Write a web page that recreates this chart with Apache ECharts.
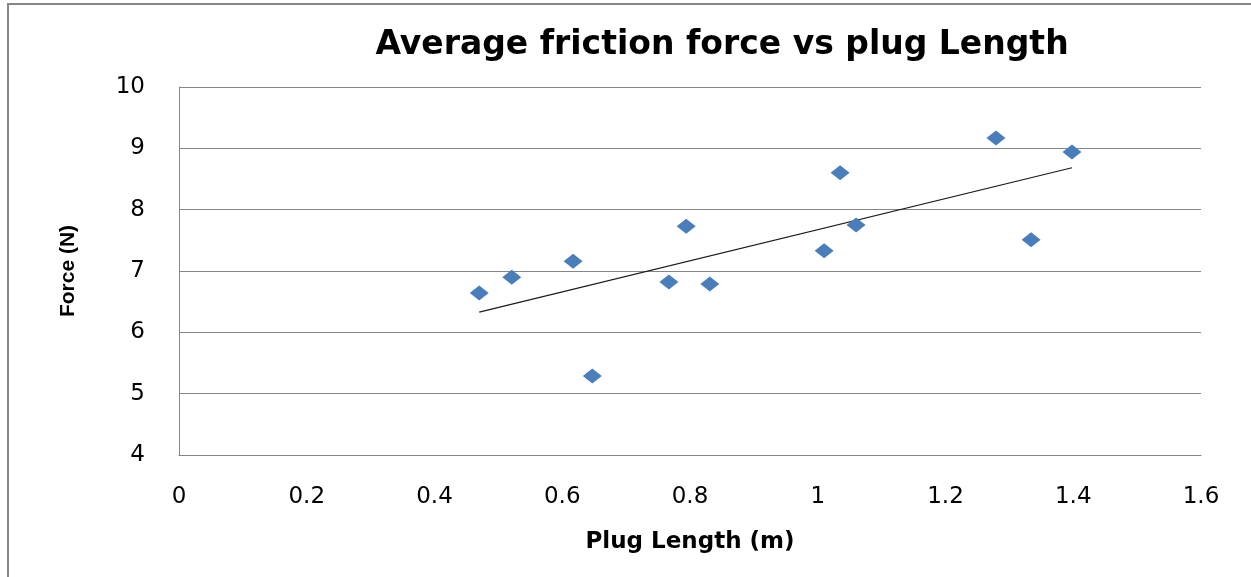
<!DOCTYPE html>
<html>
<head>
<meta charset="utf-8">
<script src="https://cdn.jsdelivr.net/npm/echarts@6/dist/echarts.min.js"></script>
<style>
html,body{margin:0;padding:0;background:#fff;}
#c{width:1251px;height:577px;}
</style>
</head>
<body>
<div id="c"></div>
<script>
const plugLength = [0.47, 0.521, 0.617, 0.647, 0.767, 0.794, 0.831, 1.010, 1.035, 1.060, 1.279, 1.334, 1.398];
const force      = [6.64, 6.90, 7.16, 5.29, 6.82, 7.73, 6.79, 7.33, 8.60, 7.75, 9.17, 7.51, 8.94];
const titleText = 'Average friction force vs plug Length';
const xName = 'Plug Length (m)';
const yName = 'Force (N)';

// linear trendline (least squares) from the data
const n = plugLength.length;
const mx = plugLength.reduce((a,b)=>a+b,0)/n;
const my = force.reduce((a,b)=>a+b,0)/n;
let sxy=0, sxx=0;
for (let i=0;i<n;i++){ sxy += (plugLength[i]-mx)*(force[i]-my); sxx += (plugLength[i]-mx)**2; }
const slope = sxy/sxx, icpt = my - slope*mx;
const xmin = Math.min(...plugLength), xmax = Math.max(...plugLength);
const trend = [[xmin, icpt+slope*xmin],[xmax, icpt+slope*xmax]];

const chart = echarts.init(document.getElementById('c'));
chart.setOption({
  animation:false,
  backgroundColor:'#fff',
  graphic:[{type:'rect', shape:{x:8,y:4,width:1270,height:600}, style:{fill:'none', stroke:'#868686', lineWidth:2}, silent:true}],
  title:{text:titleText, left:717, top:24, textAlign:'center',
    textStyle:{fontFamily:'DejaVu Sans', fontWeight:'bold', fontSize:33, color:'#000'}},
  grid:{left:179, top:87, right:50, bottom:122},
  xAxis:{type:'value', min:0, max:1.6, interval:0.2,
    name:xName, nameLocation:'middle', nameGap:76,
    nameTextStyle:{fontFamily:'DejaVu Sans', fontWeight:'bold', fontSize:23, color:'#000', verticalAlign:'top'},
    axisLine:{show:true, lineStyle:{color:'#868686', width:1}},
    axisTick:{show:false},
    splitLine:{show:false},
    axisLabel:{margin:31, fontFamily:'DejaVu Sans', fontSize:23, color:'#000', formatter:v=>String(+v.toFixed(1))}},
  yAxis:{type:'value', min:4, max:10, interval:1,
    name:yName, nameLocation:'middle', nameGap:100, nameRotate:90,
    nameTextStyle:{fontFamily:'Liberation Sans Narrow, Liberation Sans', fontWeight:'bold', fontSize:21, color:'#000'},
    axisLine:{show:true, lineStyle:{color:'#868686', width:1}},
    axisTick:{show:false},
    splitLine:{show:true, lineStyle:{color:'#868686', width:1}},
    axisLabel:{margin:34, fontFamily:'DejaVu Sans', fontSize:23, color:'#000'}},
  series:[
    {type:'scatter', data:plugLength.map((x,i)=>[x,force[i]]), symbol:'diamond', symbolSize:[19,15],
     itemStyle:{color:'#4A7EBB', opacity:1}, z:3},
    {type:'line', data:trend, symbol:'none', lineStyle:{color:'#1a1a1a', width:1.2}, z:2}
  ]
});
</script>
</body>
</html>
